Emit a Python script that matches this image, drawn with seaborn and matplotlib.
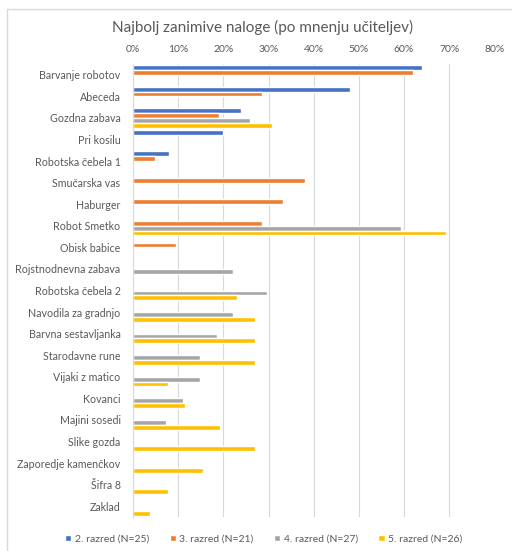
import numpy as np
import pandas as pd
import matplotlib.pyplot as plt
import seaborn as sns
from matplotlib.patches import Rectangle

tasks = [
    "Barvanje robotov", "Abeceda", "Gozdna zabava", "Pri kosilu",
    "Robotska čebela 1", "Smučarska vas", "Haburger", "Robot Smetko",
    "Obisk babice", "Rojstnodnevna zabava", "Robotska čebela 2",
    "Navodila za gradnjo", "Barvna sestavljanka", "Starodavne rune",
    "Vijaki z matico", "Kovanci", "Majini sosedi", "Slike gozda",
    "Zaporedje kamenčkov", "Šifra 8", "Zaklad",
]
grades = ["2. razred (N=25)", "3. razred (N=21)", "4. razred (N=27)", "5. razred (N=26)"]

# share of teachers (%), None = no answer for that grade
grade2 = [64, 48, 24, 20, 8, None, None, None, None, None, None,
          None, None, None, None, None, None, None, None, None, None]
grade3 = [61.9, 28.6, 19.0, None, 4.8, 38.1, 33.3, 28.6, 9.5, None, None,
          None, None, None, None, None, None, None, None, None, None]
grade4 = [None, None, 25.9, None, None, None, None, 59.3, None, 22.2, 29.6,
          22.2, 18.5, 14.8, 14.8, 11.1, 7.4, None, None, None, None]
grade5 = [None, None, 30.8, None, None, None, None, 69.2, None, None, 23.1,
          26.9, 26.9, 26.9, 7.7, 11.5, 19.2, 26.9, 15.4, 7.7, 3.8]

colors = ["#4472C4", "#ED7D31", "#A5A5A5", "#FFC000"]

rows = []
for g, vals in zip(grades, [grade2, grade3, grade4, grade5]):
    for t, v in zip(tasks, vals):
        rows.append({"naloga": t, "razred": g, "delez": np.nan if v is None else v})
df = pd.DataFrame(rows)

sns.set_style("white")
plt.rcParams["font.family"] = ["Lato", "DejaVu Sans"]
txt = "#595959"

fig = plt.figure(figsize=(5.12, 5.51), dpi=100)
ax = fig.add_axes([0.2598, 0.0617, 0.7060, 0.8221])

sns.barplot(data=df, y="naloga", x="delez", hue="razred", order=tasks,
            hue_order=grades, palette=colors, orient="h", width=0.89,
            saturation=1, errorbar=None, ax=ax, legend=True)

ax.set_xlim(0, 80)
ax.set_xticks(np.arange(0, 81, 10))
ax.set_xticklabels([f"{v}%" for v in range(0, 81, 10)])
ax.xaxis.tick_top()
ax.tick_params(axis="x", length=0, labelsize=7.5, colors=txt, pad=7)
ax.tick_params(axis="y", length=0, labelsize=7.7, colors=txt, pad=9)
ax.grid(axis="x", color="#d9d9d9", linewidth=0.8)
ax.set_axisbelow(True)
for s in ["top", "right", "bottom"]:
    ax.spines[s].set_visible(False)
ax.spines["left"].set_color("#d9d9d9")
ax.set_xlabel("")
ax.set_ylabel("")

handles, labels = ax.get_legend_handles_labels()
ax.legend_.remove()
fig.legend(handles, labels, loc="center", bbox_to_anchor=(0.515, 1 - 539 / 551),
           ncol=4, frameon=False, fontsize=7.5, labelcolor=txt,
           handlelength=0.6, handleheight=0.6, handletextpad=0.3, columnspacing=2.0)

fig.text(263 / 512, 1 - 27 / 551, "Najbolj zanimive naloge (po mnenju učiteljev)",
         ha="center", va="center", fontsize=11, color=txt)

fig.patches.append(Rectangle((7 / 512, -0.1), 1.1, 1 - 9 / 551 + 0.1,
                             transform=fig.transFigure, fill=False,
                             edgecolor="#d9d9d9", linewidth=1))

fig.savefig("out.png", dpi=100, facecolor="white")
